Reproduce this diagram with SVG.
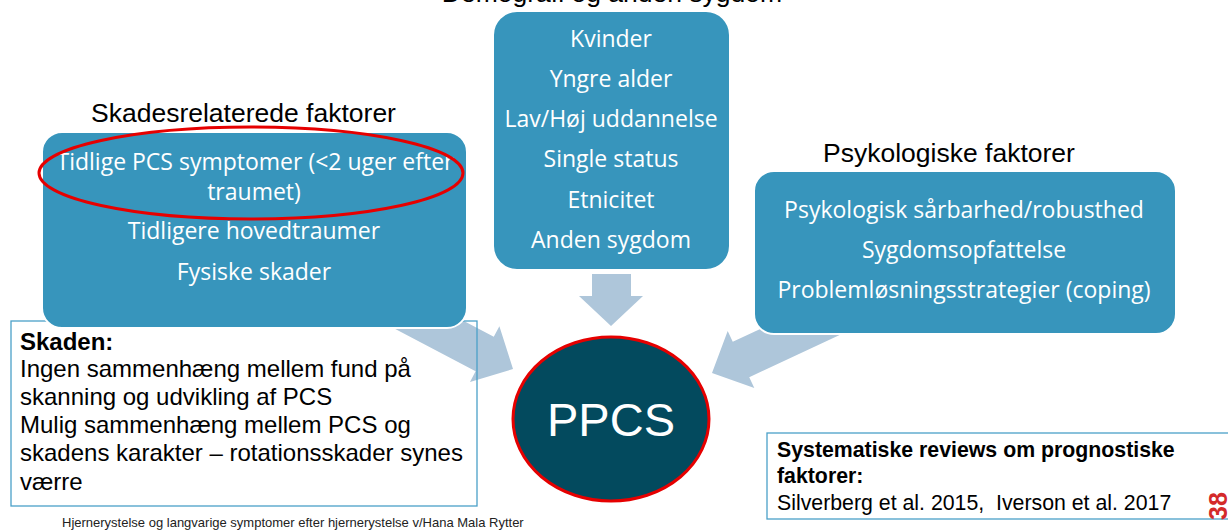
<svg xmlns="http://www.w3.org/2000/svg" width="1228" height="532" viewBox="0 0 1228 532">
<style>
.title{font-family:"Liberation Sans",Arial,sans-serif;font-size:26.5px;fill:#000;text-anchor:middle}
.box{fill:#3795BC;stroke:#fff;stroke-width:2}
.bt{font-family:"Open Sans","Noto Sans",sans-serif;font-size:23px;fill:#fff;text-anchor:middle}
.arrow{fill:#AEC6DA}
.note{fill:none;stroke:#4BA0C8;stroke-width:1.3}
.nt{font-family:"Liberation Sans",Arial,sans-serif;font-size:24px;fill:#000}
.st{font-family:"Liberation Sans",Arial,sans-serif;font-size:21.3px;fill:#000}
.red{fill:none;stroke:#E60000;stroke-width:3}
</style>
<defs>
<path id="arr" d="M0,0 L-32,-31.5 L-32,-19.5 L-140,-19.5 L-140,19.5 L-32,19.5 L-32,31.5 Z"/>
</defs>
<rect width="1228" height="532" fill="#fff"/>

<text class="title" x="612" y="2">Demografi og anden sygdom</text>

<g id="connectors">
<use href="#arr" class="arrow" transform="translate(513,369) rotate(27.8)"/>
<path class="arrow" d="M611,326 L579,296 L592,296 L592,274 L631,274 L631,296 L643,296 Z"/>
<use href="#arr" class="arrow" transform="translate(712,373) rotate(155)"/>
</g>

<g id="skaden">
<rect class="note" x="11" y="321" width="466" height="185"/>
<text class="nt" x="20" y="350" font-weight="bold">Skaden:</text>
<text class="nt" x="20" y="377">Ingen sammenhæng mellem fund på</text>
<text class="nt" x="20" y="405">skanning og udvikling af PCS</text>
<text class="nt" x="20" y="433">Mulig sammenhæng mellem PCS og</text>
<text class="nt" x="20" y="461">skadens karakter – rotationsskader synes</text>
<text class="nt" x="20" y="490">værre</text>
</g>

<g id="skadesrelaterede">
<text class="title" x="243.5" y="122">Skadesrelaterede faktorer</text>
<rect class="box" x="42" y="132" width="425" height="196" rx="20"/>
<text class="bt" x="255" y="170">Tidlige PCS symptomer (&lt;2 uger efter</text>
<text class="bt" x="254" y="200">traumet)</text>
<text class="bt" x="254" y="239">Tidligere hovedtraumer</text>
<text class="bt" x="254" y="280">Fysiske skader</text>
<ellipse class="red" cx="251" cy="173" rx="212" ry="46"/>
</g>

<g id="demografi">
<rect class="box" x="493" y="11" width="237" height="259" rx="24"/>
<text class="bt" x="611" y="47">Kvinder</text>
<text class="bt" x="611" y="87">Yngre alder</text>
<text class="bt" x="611" y="127">Lav/Høj uddannelse</text>
<text class="bt" x="611" y="167">Single status</text>
<text class="bt" x="611" y="208">Etnicitet</text>
<text class="bt" x="611" y="248">Anden sygdom</text>
</g>

<g id="psykologiske">
<text class="title" x="949" y="162">Psykologiske faktorer</text>
<rect class="box" x="754" y="171" width="422" height="163" rx="20"/>
<text class="bt" x="964" y="218">Psykologisk sårbarhed/robusthed</text>
<text class="bt" x="964" y="258">Sygdomsopfattelse</text>
<text class="bt" x="964" y="298">Problemløsningsstrategier (coping)</text>
</g>

<g id="ppcs">
<ellipse cx="611" cy="419" rx="98" ry="82" fill="#034A5E" stroke="#E60000" stroke-width="3"/>
<text x="611" y="436" text-anchor="middle" font-family="Liberation Sans, Arial, sans-serif" font-size="47" fill="#fff">PPCS</text>
</g>

<g id="reviews">
<rect class="note" x="767" y="433" width="470" height="86"/>
<text class="st" x="777" y="457" font-weight="bold">Systematiske reviews om prognostiske</text>
<text class="st" x="777" y="483" font-weight="bold">faktorer:</text>
<text class="st" x="777" y="510" xml:space="preserve">Silverberg et al. 2015,  Iverson et al. 2017</text>
</g>

<g id="footer">
<text x="62" y="527" font-family="Liberation Sans, Arial, sans-serif" font-size="13" fill="#222">Hjernerystelse og langvarige symptomer efter hjernerystelse v/Hana Mala Rytter</text>
<text transform="translate(1227,520) rotate(-90)" font-family="Liberation Sans, Arial, sans-serif" font-size="25" font-weight="bold" fill="#D42A2A">38</text>
</g>
</svg>
